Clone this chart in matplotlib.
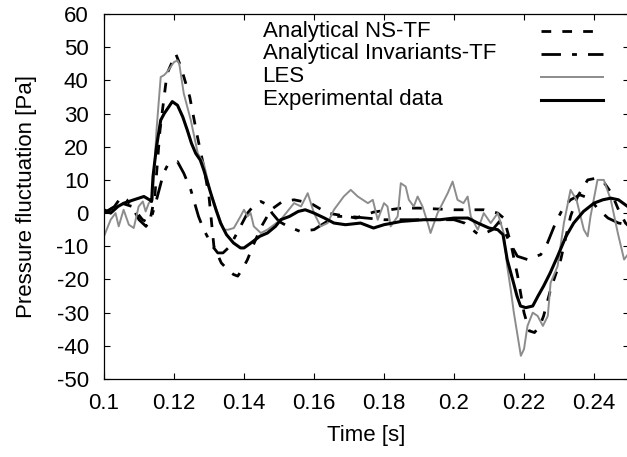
import matplotlib
matplotlib.use("Agg")
import matplotlib.pyplot as plt
from matplotlib.ticker import FormatStrFormatter

plt.rcParams['font.family'] = ['Liberation Sans', 'DejaVu Sans']
plt.rcParams['font.size'] = 16
plt.rcParams['axes.unicode_minus'] = False
plt.rcParams['lines.scale_dashes'] = False

# Experimental data (black, noisy)
exp_t = [0.1000, 0.1019, 0.1040, 0.1057, 0.1085, 0.1114, 0.1130, 0.1136, 0.1140,
         0.1150, 0.1162, 0.1172, 0.1185, 0.1195, 0.1210, 0.1225, 0.1238, 0.1250,
         0.1262, 0.1275, 0.1285, 0.1305, 0.1320, 0.1333, 0.1350, 0.1370, 0.1390,
         0.1400, 0.1420, 0.1445, 0.1467, 0.1490, 0.1505, 0.1530, 0.1555, 0.1575,
         0.1600, 0.1630, 0.1657, 0.1690, 0.1733, 0.1770, 0.1800, 0.1850, 0.1914,
         0.1960, 0.2000, 0.2040, 0.2068, 0.2100, 0.2125, 0.2140, 0.2152, 0.2170,
         0.2180, 0.2190, 0.2205, 0.2225, 0.2240, 0.2256, 0.2275, 0.2296, 0.2320,
         0.2342, 0.2370, 0.2400, 0.2425, 0.2448, 0.2470, 0.2496, 0.2500]
exp_p = [1, 0, 2, 3, 4, 5, 4, 3.5, 11,
         20, 28, 30, 32, 33.6, 32.5, 29, 25, 21,
         18, 16, 13, 6, 1, -3, -6.5, -9, -10.5,
         -10.5, -9, -7, -6, -4, -2, -1, 0.5, 1,
         0, -1.5, -3, -3.5, -3, -4.5, -3.5, -2.5, -2,
         -2, -1.5, -1.5, -3, -4.5, -5, -6.5, -14, -21,
         -25, -28, -28.5, -28, -25, -22, -18, -13, -7,
         -3, 0.5, 3, 4, 4.5, 4, 2, 2]

# LES (grey)
les_t = [0.1000, 0.1019, 0.1033, 0.1042, 0.1056, 0.1071, 0.1085, 0.1099, 0.1111,
         0.1119, 0.1128, 0.1139, 0.1150, 0.1162, 0.1172, 0.1180, 0.1190, 0.1200,
         0.1210, 0.1215, 0.1228, 0.1248, 0.1268, 0.1285, 0.1305, 0.1325, 0.1342,
         0.1355, 0.1371, 0.1390, 0.1400, 0.1410, 0.1419, 0.1428, 0.1448, 0.1467,
         0.1505, 0.1543, 0.1563, 0.1582, 0.1600, 0.1619, 0.1639, 0.1657, 0.1685,
         0.1705, 0.1725, 0.1754, 0.1768, 0.1782, 0.1800, 0.1810, 0.1819, 0.1839,
         0.1848, 0.1862, 0.1871, 0.1885, 0.1896, 0.1910, 0.1925, 0.1933, 0.1953,
         0.1982, 0.1996, 0.2010, 0.2027, 0.2039, 0.2048, 0.2068, 0.2085, 0.2105,
         0.2125, 0.2142, 0.2152, 0.2162, 0.2171, 0.2191, 0.2200, 0.2210, 0.2225,
         0.2239, 0.2254, 0.2268, 0.2276, 0.2296, 0.2314, 0.2333, 0.2350, 0.2371,
         0.2382, 0.2390, 0.2410, 0.2428, 0.2448, 0.2468, 0.2486, 0.2500]
les_p = [-7, -2, 0, -4, 1, -3.5, -4.5, 2, 3.5,
         0.5, 3, 4, 25, 41, 41.6, 42.5, 44, 45.5,
         46, 45, 36, 28, 18, 15, 6, 0, -5,
         -5, -4.5, -1, 1, -1, 0, -4, -6, -5,
         -2, 3, 2, 6, 0, -4, -3, 1, 5,
         7, 5, 3, 4, -2, 3, 2, -4, -1,
         9, 8, 4, 2, 5, 2, -3, -6, 0,
         6, 9.5, 4, 3, 5, -1, -5, 0, -3,
         0, -6, -16, -23, -30, -43, -41, -34, -30,
         -31, -34, -31, -21, -16, -3, 7, 4, -5,
         -7, -1, 10, 10, 4, -6, -14, -12]

# Analytical NS-TF (dashed)
ns_t = [0.1000, 0.1050, 0.1080, 0.1110, 0.1130, 0.1145, 0.1160, 0.1180, 0.1205,
        0.1220, 0.1245, 0.1265, 0.1285, 0.1300, 0.1314, 0.1335, 0.1353, 0.1370,
        0.1382, 0.1395, 0.1410, 0.1425, 0.1450, 0.1477, 0.1510, 0.1543, 0.1590,
        0.1638, 0.1696, 0.1720, 0.1770, 0.1850, 0.1900, 0.2000, 0.2086, 0.2125,
        0.2142, 0.2162, 0.2182, 0.2200, 0.2215, 0.2230, 0.2245, 0.2256, 0.2276,
        0.2305, 0.2333, 0.2353, 0.2382, 0.2405, 0.2430, 0.2450, 0.2470, 0.2490,
        0.2500]
ns_p = [0, 3, 2, -2, -3, 5, 25, 42, 48,
        44, 35, 24, 14, 5, -10, -15, -17, -18.5,
        -19, -17, -14, -10, -4, 1, 3.5, 4, 3,
        0, -1, -1.5, 0.3, 1.5, 1.5, 1, 1, 0,
        -1.5, -9, -19, -30, -35.5, -36, -34, -31, -23,
        -14, -1, 5, 10, 10.5, 9, 6, 1, -3,
        -4]

# Analytical Invariants-TF (dash-dot)
inv_t = [0.1000, 0.1030, 0.1050, 0.1065, 0.1085, 0.1100, 0.1120, 0.1135, 0.1150,
         0.1160, 0.1170, 0.1182, 0.1210, 0.1228, 0.1248, 0.1270, 0.1285, 0.1310,
         0.1325, 0.1340, 0.1360, 0.1385, 0.1410, 0.1430, 0.1448, 0.1467, 0.1480,
         0.1500, 0.1525, 0.1560, 0.1600, 0.1630, 0.1660, 0.1700, 0.1750, 0.1800,
         0.1900, 0.2000, 0.2030, 0.2070, 0.2090, 0.2110, 0.2130, 0.2142, 0.2160,
         0.2181, 0.2210, 0.2248, 0.2267, 0.2290, 0.2314, 0.2333, 0.2360, 0.2385,
         0.2414, 0.2440, 0.2470, 0.2500]
inv_p = [0, 2, 5, 4, 1, -2, -4, -1.5, 4,
         8, 12, 14.5, 15.5, 12, 7, -1, -5, -10,
         -12, -12, -10, -5, 0, 2.5, 3.5, 2.5, 0,
         -2.5, -4, -5.5, -5, -3, -1, -1, -1.5, -2,
         -2, -2, -3, -6.5, -6, -5, -2.5, -5, -9,
         -13, -14, -12.5, -9, -3, 2, 4, 5.5, 4.5,
         1, -1.5, -3, -3.5]

fig = plt.figure(figsize=(6.27, 4.57), dpi=100)
ax = fig.add_axes([104 / 627, 1 - 379 / 457, 525 / 627, 365 / 457])

ns_style = dict(color='black', lw=2.0, dashes=(7, 8))
inv_style = dict(color='black', lw=2.0, dashes=(14, 8, 3.5, 8))
les_style = dict(color='#8c8c8c', lw=1.4)
exp_style = dict(color='black', lw=2.2)

ax.plot(ns_t, ns_p, **ns_style)
ax.plot(inv_t, inv_p, **inv_style)
ax.plot(les_t, les_p, **les_style)
ax.plot(exp_t, exp_p, **exp_style)

ax.set_xlim(0.1, 0.25)
ax.set_ylim(-50, 60)
ax.set_xticks([0.1, 0.12, 0.14, 0.16, 0.18, 0.2, 0.22, 0.24])
ax.set_yticks(range(-50, 61, 10))
ax.xaxis.set_major_formatter(FormatStrFormatter('%g'))
ax.tick_params(direction='in', length=4.5, width=0.8, top=True, right=True)
ax.tick_params(axis='x', pad=10)
ax.tick_params(axis='y', pad=11)
for s in ax.spines.values():
    s.set_linewidth(0.9)

ax.set_xlabel('Time [s]', labelpad=8)
ax.set_ylabel('Pressure fluctuation [Pa]', labelpad=14)

# gnuplot-style key: text on the left, sample on the right
labels = ['Analytical NS-TF', 'Analytical Invariants-TF', 'LES', 'Experimental data']
styles = [ns_style, inv_style, les_style, exp_style]
for i, (lab, st) in enumerate(zip(labels, styles)):
    yk = 1 - (31 + 23 * i - 14) / 365
    ax.text(0.302, yk, lab, transform=ax.transAxes, va='center', ha='left')
    ax.plot([0.832, 0.950], [yk, yk], transform=ax.transAxes, **st)

fig.savefig('out.png', dpi=100)
